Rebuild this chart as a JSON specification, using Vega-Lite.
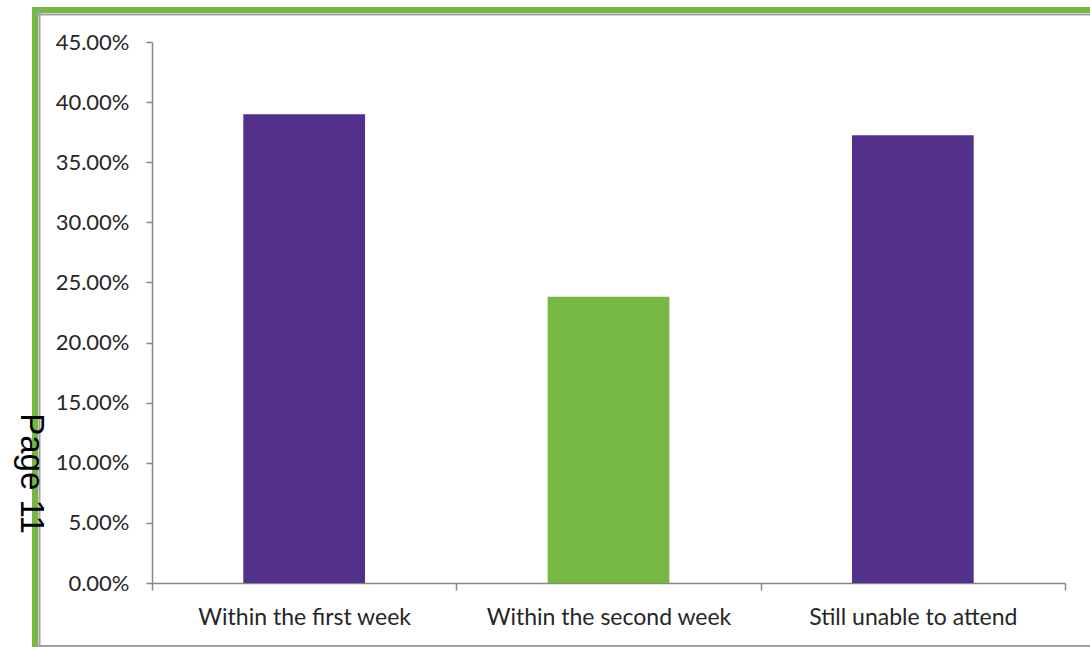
{
  "$schema": "https://vega.github.io/schema/vega-lite/v6.json",
  "autosize": {"type": "none"},
  "padding": {"left": 35, "top": 10, "right": 0, "bottom": 0},
  "width": 1070,
  "height": 641,
  "background": "white",
  "config": {
    "view": {"stroke": "#77b843", "strokeWidth": 6, "fill": "white"},
    "font": "Lato"
  },
  "data": {
    "values": [
      {"category": "Within the first week", "value": 0.39},
      {"category": "Within the second week", "value": 0.238},
      {"category": "Still unable to attend", "value": 0.3725}
    ]
  },
  "resolve": {
    "scale": {"x": "independent", "y": "independent"},
    "axis": {"x": "independent", "y": "independent"}
  },
  "layer": [
    {
      "mark": {"type": "bar", "opacity": 0},
      "encoding": {
        "x": {"field": "category", "type": "nominal", "sort": null,
          "axis": {"orient": "top", "offset": -4, "domainColor": "#a0a0a0", "domainWidth": 2, "labels": false, "ticks": false, "title": null, "grid": false}},
        "y": {"field": "value", "type": "quantitative",
          "axis": {"orient": "left", "offset": -4, "domainColor": "#a0a0a0", "domainWidth": 2, "labels": false, "ticks": false, "title": null, "grid": false}}
      }
    },
    {
      "mark": {"type": "bar", "opacity": 0},
      "encoding": {
        "x": {"field": "category", "type": "nominal", "sort": null,
          "axis": {"orient": "bottom", "offset": -5.5, "domainColor": "#a0a0a0", "domainWidth": 2, "labels": false, "ticks": false, "title": null, "grid": false}},
        "y": {"field": "value", "type": "quantitative", "axis": null}
      }
    },
    {
      "mark": {"type": "bar", "width": {"band": 0.4}},
      "encoding": {
        "x": {
          "field": "category", "type": "nominal", "sort": null,
          "scale": {"range": [117, 1030], "paddingInner": 0, "paddingOuter": 0},
          "axis": {
            "orient": "bottom", "offset": -68, "title": null, "labelAngle": 0,
            "domainColor": "#868686", "domainWidth": 1.5, "tickColor": "#868686", "tickWidth": 1.5,
            "tickSize": 7, "tickBand": "extent", "labelPadding": 16, "labelLimit": 0,
            "labelFont": "Lato", "labelFontSize": 23, "labelColor": "#262626", "grid": false
          }
        },
        "y": {
          "field": "value", "type": "quantitative",
          "scale": {"domain": [0, 0.45], "range": [573, 32], "nice": false},
          "axis": {
            "orient": "left", "offset": -117, "values": [0, 0.05, 0.1, 0.15, 0.2, 0.25, 0.3, 0.35, 0.4, 0.45],
            "format": ".2%", "grid": false,
            "domainColor": "#868686", "domainWidth": 1.5, "tickColor": "#868686", "tickWidth": 1.5,
            "tickSize": 6, "labelPadding": 17,
            "labelFont": "Lato", "labelFontSize": 22, "labelColor": "#262626",
            "title": "Page 11", "titleFont": "Liberation Sans", "titleFontSize": 33, "titleFontWeight": "normal",
            "titleColor": "black", "titleAngle": 90, "titleAlign": "center", "titleBaseline": "alphabetic",
            "titleX": -132, "titleY": 463
          }
        },
        "color": {
          "field": "category", "type": "nominal",
          "scale": {"domain": ["Within the first week", "Within the second week", "Still unable to attend"], "range": ["#53308c", "#77b843", "#53308c"]},
          "legend": null
        }
      }
    }
  ]
}
